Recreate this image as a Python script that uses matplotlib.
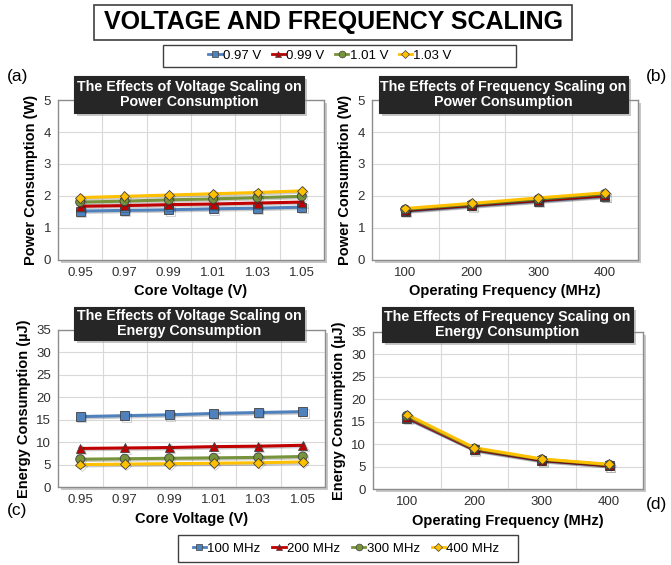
import numpy as np
import matplotlib
matplotlib.use('Agg')
import matplotlib.pyplot as plt
import matplotlib.patheffects as pe
from matplotlib.patches import Rectangle
from matplotlib.lines import Line2D

plt.rcParams['font.family'] = ['Liberation Sans', 'DejaVu Sans']

# ---- data ----
volt_labels = ['0.95', '0.97', '0.99', '1.01', '1.03', '1.05']
freq_labels = ['100', '200', '300', '400']

freq_series = ['100 MHz', '200 MHz', '300 MHz', '400 MHz']
volt_series = ['0.97 V', '0.99 V', '1.01 V', '1.03 V']

# (a) power vs core voltage, one line per frequency
power_v_100 = [1.53, 1.55, 1.57, 1.60, 1.62, 1.65]
power_v_200 = [1.68, 1.70, 1.73, 1.75, 1.78, 1.81]
power_v_300 = [1.81, 1.84, 1.88, 1.91, 1.95, 1.99]
power_v_400 = [1.95, 1.99, 2.03, 2.07, 2.11, 2.16]

# (b) power vs frequency, one line per voltage
power_f_097 = [1.53, 1.69, 1.84, 1.99]
power_f_099 = [1.55, 1.71, 1.86, 2.01]
power_f_101 = [1.58, 1.74, 1.90, 2.06]
power_f_103 = [1.61, 1.77, 1.94, 2.10]

# (c) energy vs core voltage
energy_v_100 = [15.7, 15.9, 16.1, 16.4, 16.6, 16.8]
energy_v_200 = [8.6, 8.7, 8.8, 9.0, 9.1, 9.3]
energy_v_300 = [6.2, 6.3, 6.4, 6.5, 6.6, 6.8]
energy_v_400 = [5.0, 5.1, 5.2, 5.3, 5.4, 5.6]

# (d) energy vs frequency
energy_f_097 = [15.8, 8.7, 6.3, 5.2]
energy_f_099 = [16.0, 8.8, 6.4, 5.2]
energy_f_101 = [16.3, 9.0, 6.6, 5.4]
energy_f_103 = [16.6, 9.2, 6.7, 5.5]

colors = ['#4F81BD', '#C00000', '#77933C', '#FFC000']
markers = ['s', '^', 'o', 'D']
msizes = [6.5, 6.5, 6.5, 5]

W, H = 671, 565
fig = plt.figure(figsize=(W / 100, H / 100), dpi=100)


def rect(l, t, r, b):
    return [l / W, 1 - b / H, (r - l) / W, (b - t) / H]


def shadow_box(l, t, r, b, face, off=3, z=5, edge='#7f7f7f'):
    sh = Rectangle((l / W + off / W, 1 - b / H - off / H), (r - l) / W, (b - t) / H,
                   transform=fig.transFigure, facecolor='#9a9a9a', edgecolor='none',
                   alpha=0.55, zorder=z)
    bx = Rectangle((l / W, 1 - b / H), (r - l) / W, (b - t) / H,
                   transform=fig.transFigure, facecolor=face, edgecolor=edge,
                   linewidth=0.8, zorder=z + 0.1)
    fig.patches.extend([sh, bx])


def panel(box, cats, series, labels, ymax, ystep, xlabel, ylabel, title_box, title):
    l, t, r, b = box
    shadow_box(l, t, r, b, 'white', off=3, z=-1)
    ax = fig.add_axes(rect(l, t, r, b))
    ax.set_facecolor('none')
    for vals, c, m, ms, lab in zip(series, colors, markers, msizes, labels):
        ax.plot(cats, vals, color=c, lw=2.2, marker=m, ms=ms, mfc=c, mec='#404040',
                mew=0.6, label=lab,
                path_effects=[pe.SimpleLineShadow(offset=(1, -1), alpha=0.2),
                              pe.Normal()])
    n = len(cats)
    ax.set_xlim(-0.5, n - 0.5)
    ax.set_ylim(0, ymax)
    ax.set_yticks(np.arange(0, ymax + 0.01, ystep))
    ax.set_xticks(np.arange(0.5, n - 0.5), minor=True)
    ax.grid(True, which='minor', axis='x', color='#d9d9d9', lw=0.8)
    ax.grid(True, which='major', axis='y', color='#d9d9d9', lw=0.8)
    ax.set_axisbelow(True)
    ax.tick_params(which='both', length=0, labelsize=9.5, labelcolor='#303030', pad=5)
    for s in ax.spines.values():
        s.set_color('#8c8c8c')
        s.set_linewidth(0.9)
    ax.set_xlabel(xlabel, fontsize=10.5, fontweight='bold', labelpad=4)
    ax.set_ylabel(ylabel, fontsize=10.5, fontweight='bold', labelpad=4)
    tl, tt, tr, tb = title_box
    shadow_box(tl, tt, tr, tb, '#262626', off=3, z=5, edge='#262626')
    fig.text((tl + tr) / 2 / W, 1 - (tt + tb) / 2 / H, title, color='white',
             fontsize=10.3, fontweight='bold', ha='center', va='center',
             linespacing=1.1, zorder=7)
    return ax


ax_a = panel((58, 100, 324, 260), volt_labels,
             [power_v_100, power_v_200, power_v_300, power_v_400], freq_series,
             5, 1, 'Core Voltage (V)', 'Power Consumption (W)',
             (74, 76, 304, 113), 'The Effects of Voltage Scaling on\nPower Consumption')
ax_b = panel((372, 100, 638, 260), freq_labels,
             [power_f_097, power_f_099, power_f_101, power_f_103], volt_series,
             5, 1, 'Operating Frequency (MHz)', 'Power Consumption (W)',
             (379, 76, 628, 113), 'The Effects of Frequency Scaling on\nPower Consumption')
ax_c = panel((58, 330, 325, 487), volt_labels,
             [energy_v_100, energy_v_200, energy_v_300, energy_v_400], freq_series,
             35, 5, 'Core Voltage (V)', 'Energy Consumption (\u00b5J)',
             (74, 307, 304, 340), 'The Effects of Voltage Scaling on\nEnergy Consumption')
ax_d = panel((373, 332, 643, 489), freq_labels,
             [energy_f_097, energy_f_099, energy_f_101, energy_f_103], volt_series,
             35, 5, 'Operating Frequency (MHz)', 'Energy Consumption (\u00b5J)',
             (382, 307, 633, 342), 'The Effects of Frequency Scaling on\nEnergy Consumption')

# main title
fig.patches.append(Rectangle((94 / W, 1 - 40 / H), (572 - 94) / W, 35 / H,
                             transform=fig.transFigure, facecolor='white',
                             edgecolor='#404040', lw=1.2, zorder=5))
fig.text(333 / W, 1 - 22.5 / H, 'VOLTAGE AND FREQUENCY SCALING',
         fontweight='bold', fontsize=18, ha='center', va='center', zorder=6)


def legend_handles(labels):
    return [Line2D([0], [0], color=c, lw=2, marker=m, ms=ms * 0.75, mfc=c,
                   mec='#404040', mew=0.5, label=lab)
            for c, m, ms, lab in zip(colors, markers, msizes, labels)]


def legend_box(l, t, r, b):
    fig.patches.append(Rectangle((l / W, 1 - b / H), (r - l) / W, (b - t) / H,
                                 transform=fig.transFigure, facecolor='white',
                                 edgecolor='#404040', lw=1.0, zorder=4))


kw = dict(ncol=4, frameon=False, handlelength=1.0, handletextpad=0.1,
          borderpad=0, borderaxespad=0)
legend_box(163, 45, 516, 67)
fig.legend(handles=legend_handles(volt_series), loc='center', fontsize=9.5,
           columnspacing=0.8, bbox_to_anchor=(330 / W, 1 - 56 / H), **kw)
legend_box(178, 535, 518, 562)
fig.legend(handles=legend_handles(freq_series), loc='center', fontsize=9.5,
           columnspacing=0.9, bbox_to_anchor=(346 / W, 1 - 548.5 / H), **kw)

fig.text(7 / W, 1 - 77 / H, '(a)', fontsize=12.5, va='center')
fig.text(646 / W, 1 - 77 / H, '(b)', fontsize=12.5, va='center')
fig.text(7 / W, 1 - 510 / H, '(c)', fontsize=12.5, va='center')
fig.text(646 / W, 1 - 505 / H, '(d)', fontsize=12.5, va='center')

fig.savefig('out.png', dpi=100)
